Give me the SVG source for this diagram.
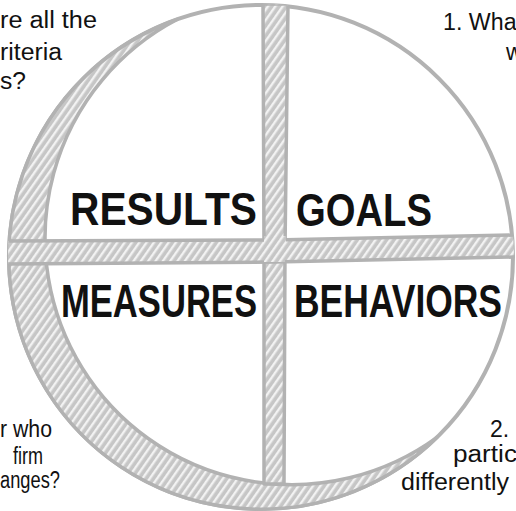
<svg xmlns="http://www.w3.org/2000/svg" width="516" height="511" viewBox="0 0 516 511">
<style>
.band{fill:url(#hatch);stroke:#b2b2b2;stroke-width:3.5;stroke-linejoin:round}
.rim{fill:none;stroke:#b2b2b2;stroke-width:4}
.lbl{font-family:"Liberation Sans",Arial,sans-serif;font-weight:bold;font-size:46px;fill:#111}
.note{font-family:"Liberation Sans",Arial,sans-serif;font-size:23px;fill:#111}
</style>
<defs>
<pattern id="hatch" width="6" height="6" patternUnits="userSpaceOnUse" patternTransform="rotate(35)">
<rect width="6" height="6" fill="#c6c6c6"/>
<rect width="2.4" height="6" fill="#f2f2f2"/>
</pattern>
<clipPath id="outer"><circle cx="261" cy="257" r="253"/></clipPath>
</defs>
<rect width="516" height="511" fill="#fff"/>
<g id="frame">
<circle class="rim" cx="261" cy="257" r="252"/>
<path class="band" d="M177,19.5 A252,252 0 1,0 437,437.3 A246.7,246.7 0 1,1 177,19.5 Z"/>
</g>
<g id="connectors" clip-path="url(#outer)">
<path class="band" d="M263,4 L288,4 L285,250 L284,484 L264,484 L264,250 Z"/>
<path class="band" d="M6,241 L274,240 L516,235 L516,257 L274,262 L6,264 Z"/>
<path class="band" d="M264,236 L286,236 L285,262 L264,262 Z" style="stroke:none"/>
</g>
<g id="results"><text class="lbl" x="70" y="225" textLength="187" lengthAdjust="spacingAndGlyphs">RESULTS</text></g>
<g id="goals"><text class="lbl" x="296" y="226" textLength="136" lengthAdjust="spacingAndGlyphs">GOALS</text></g>
<g id="measures"><text class="lbl" x="61" y="317" textLength="196" lengthAdjust="spacingAndGlyphs">MEASURES</text></g>
<g id="behaviors"><text class="lbl" x="294" y="317" textLength="208" lengthAdjust="spacingAndGlyphs">BEHAVIORS</text></g>
<g id="note-top-left">
<text class="note" x="0" y="28" textLength="97" lengthAdjust="spacingAndGlyphs">re all the</text>
<text class="note" x="0" y="60" textLength="62" lengthAdjust="spacingAndGlyphs">riteria</text>
<text class="note" x="0" y="89" textLength="26" lengthAdjust="spacingAndGlyphs">s?</text>
</g>
<g id="note-top-right">
<text class="note" x="443" y="30" textLength="80" lengthAdjust="spacingAndGlyphs">1. What</text>
<text class="note" x="506" y="60">w</text>
</g>
<g id="note-bottom-left">
<text class="note" x="0" y="437" textLength="52" lengthAdjust="spacingAndGlyphs">r who</text>
<text class="note" x="13" y="464" textLength="30" lengthAdjust="spacingAndGlyphs">firm</text>
<text class="note" x="0" y="488" textLength="60" lengthAdjust="spacingAndGlyphs">anges?</text>
</g>
<g id="note-bottom-right">
<text class="note" x="490" y="437">2.</text>
<text class="note" x="453" y="462" textLength="64" lengthAdjust="spacingAndGlyphs">partic</text>
<text class="note" x="401" y="490" textLength="108" lengthAdjust="spacingAndGlyphs">differently</text>
</g>
</svg>
